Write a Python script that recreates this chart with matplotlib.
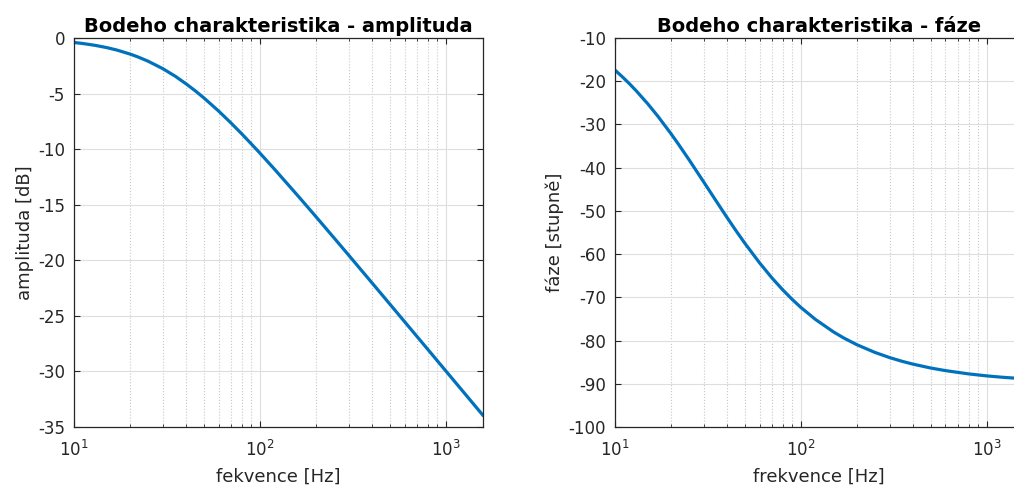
import numpy as np
import matplotlib
matplotlib.use("Agg")
from matplotlib import pyplot as plt
from matplotlib.ticker import LogLocator, NullFormatter, MultipleLocator

# values
freq = [10, 11, 12, 13, 15, 17, 20, 22, 25, 30, 35, 40, 45, 50, 60, 70, 80,
        90, 100, 120, 150, 170, 200, 250, 300, 350, 400, 500, 600, 800,
        1000, 1200, 1580]
amp_db = [-0.41, -0.49, -0.58, -0.67, -0.87, -1.09, -1.45, -1.70, -2.09,
          -2.76, -3.44, -4.12, -4.77, -5.40, -6.58, -7.66, -8.64, -9.54,
          -10.36, -11.82, -13.66, -14.70, -16.07, -17.97, -19.53, -20.86,
          -22.01, -23.94, -25.52, -28.01, -29.95, -31.53, -33.92]
phase_deg = [-17.44, -19.07, -20.66, -22.22, -25.23, -28.10, -32.14, -34.65,
             -38.15, -43.31, -47.71, -51.49, -54.73, -57.52, -62.05, -65.55,
             -68.30, -70.52, -72.34, -75.14, -78.02, -79.40, -80.96, -82.74,
             -83.94, -84.80, -85.45, -86.36, -86.96, -87.72, -88.18, -88.48,
             -88.85]

plt.rcParams['font.family'] = ['DejaVu Sans']
plt.rcParams['axes.unicode_minus'] = False

fig = plt.figure(figsize = (10.14, 4.9), dpi = 100)
ax1 = fig.add_axes([0.073, 0.1286, 0.403, 0.794])
ax2 = fig.add_axes([0.6065, 0.1286, 0.403, 0.794])

def style(ax):
	ax.set_xscale('log')
	ax.set_xlim(10, 1580)
	ax.xaxis.set_minor_locator(LogLocator(base = 10, subs = np.arange(2, 10)))
	ax.xaxis.set_minor_formatter(NullFormatter())
	ax.grid(True, which = 'major', color = '#dedede', linewidth = 0.8)
	ax.grid(True, which = 'minor', axis = 'x', color = '#c8c8c8', linestyle = ':', linewidth = 0.8)
	ax.set_axisbelow(True)
	ax.tick_params(which = 'both', direction = 'in', top = True, right = True,
		colors = '#262626', labelsize = 12)
	ax.tick_params(which = 'major', length = 4)
	ax.tick_params(which = 'minor', length = 2)
	ax.tick_params(axis = 'x', which = 'major', pad = 9)
	ax.tick_params(axis = 'y', which = 'major', pad = 6.5)
	for s in ax.spines.values():
		s.set_color('#262626')
		s.set_linewidth(0.9)

style(ax1)
ax1.plot(freq, amp_db, color = '#0072BD', linewidth = 2.3)
ax1.set_ylim(-35, 0)
ax1.yaxis.set_major_locator(MultipleLocator(5))
ax1.set_title('Bodeho charakteristika - amplituda', fontsize = 14, fontweight = 'bold', pad = 4)
ax1.set_xlabel('fekvence [Hz]', fontsize = 13, color = '#262626', labelpad = 6)
ax1.set_ylabel('amplituda [dB]', fontsize = 13, color = '#262626', labelpad = 3)

style(ax2)
ax2.plot(freq, phase_deg, color = '#0072BD', linewidth = 2.3)
ax2.set_ylim(-100, -10)
ax2.yaxis.set_major_locator(MultipleLocator(10))
ax2.set_title('Bodeho charakteristika - fáze', fontsize = 14, fontweight = 'bold', pad = 4)
ax2.set_xlabel('frekvence [Hz]', fontsize = 13, color = '#262626', labelpad = 6)
ax2.set_ylabel('fáze [stupně]', fontsize = 13, color = '#262626', labelpad = 3)

fig.savefig('out.png', dpi = 100)
